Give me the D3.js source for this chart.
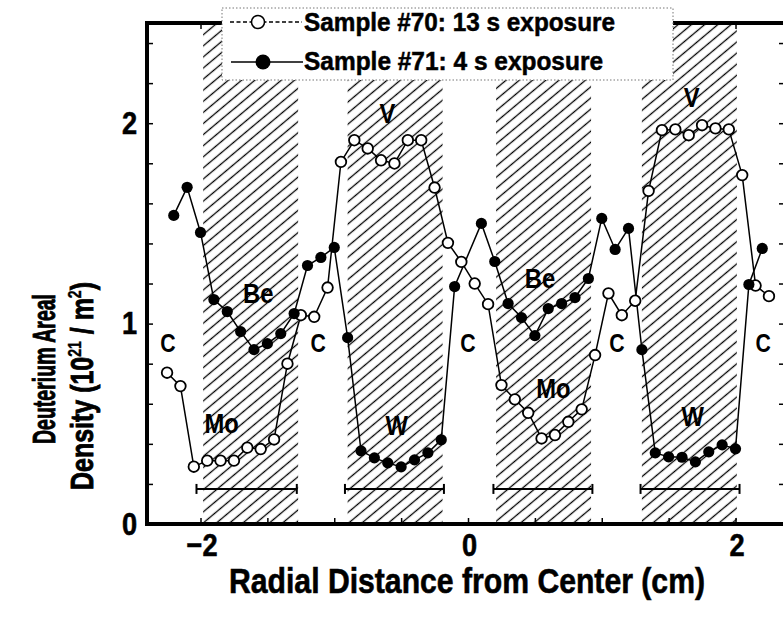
<!DOCTYPE html>
<html><head><meta charset="utf-8">
<script src="https://cdn.jsdelivr.net/npm/d3@7"></script>
<style>body{margin:0;background:#fff} svg{display:block}</style>
</head><body>
<svg id="chart" width="783" height="618"></svg>
<script>
// ---- data ----
const x71 = [-2.2,-2.1,-2.0,-1.9,-1.8,-1.7,-1.6,-1.5,-1.4,-1.3,-1.2,-1.1,-1.0,-0.9,-0.8,-0.7,-0.6,-0.5,-0.4,-0.3,-0.2,-0.1,0.1,0.2,0.3,0.4,0.5,0.6,0.7,0.8,0.9,1.0,1.1,1.2,1.3,1.4,1.5,1.6,1.7,1.8,1.9,2.0,2.1,2.2];
const y71 = [1.54,1.68,1.455,1.12,1.06,0.96,0.87,0.90,0.95,1.05,1.29,1.33,1.38,0.93,0.365,0.33,0.305,0.285,0.32,0.355,0.42,1.185,1.50,1.31,1.10,1.03,0.94,1.075,1.10,1.13,1.225,1.525,1.37,1.475,0.87,0.355,0.335,0.333,0.31,0.36,0.395,0.375,1.195,1.375];
const x70 = [-2.25,-2.15,-2.05,-1.95,-1.85,-1.75,-1.65,-1.55,-1.45,-1.35,-1.25,-1.15,-1.05,-0.95,-0.85,-0.75,-0.65,-0.55,-0.45,-0.35,-0.25,-0.15,-0.05,0.05,0.15,0.25,0.35,0.45,0.55,0.65,0.75,0.85,0.95,1.05,1.15,1.25,1.35,1.45,1.55,1.65,1.75,1.85,1.95,2.05,2.15,2.25];
const y70 = [0.755,0.688,0.286,0.316,0.316,0.316,0.381,0.374,0.422,0.80,1.042,1.034,1.18,1.807,1.915,1.874,1.815,1.799,1.915,1.915,1.679,1.403,1.308,1.20,1.097,0.693,0.622,0.555,0.427,0.444,0.51,0.572,0.843,1.151,1.042,1.114,1.662,1.965,1.969,1.94,1.99,1.974,1.969,1.741,1.19,1.137];
const hatchStart = [-1.98,-0.90,0.21,1.30];
const hatchEnd   = [-1.27,-0.19,0.92,2.01];
const barStart = [-2.03,-0.92,0.19,1.29];
const barEnd   = [-1.28,-0.18,0.93,2.03];
const barLevel = 0.175;
const labelText = ["C","C","C","C","C","Be","Be","Mo","Mo","V","V","W","W"];
const labelX = [-2.243,-1.121,0.0,1.114,2.206,-1.568,0.538,-1.842,0.638,-0.603,1.673,-0.533,1.68];
const labelY = [0.903,0.903,0.903,0.903,0.903,1.151,1.225,0.502,0.677,2.048,2.131,0.494,0.535];
const xTickLabels = [-2,0,2];
const yTickLabels = [0,1,2];
const legendLabels = ["Sample #70: 13 s exposure","Sample #71: 4 s exposure"];

// ---- layout ----
const FONT = "'Liberation Sans',Arial,sans-serif";
const svg = d3.select("#chart");
const x = d3.scaleLinear().domain([-2.4, 2.37]).range([147, 785]);
const y = d3.scaleLinear().domain([0, 2.5]).range([524, 23]);

const defs = svg.append("defs");
const pat = defs.append("pattern").attr("id","hatch").attr("patternUnits","userSpaceOnUse")
  .attr("width",10).attr("height",8.5).attr("patternTransform","rotate(-40)");
pat.append("line").attr("x1",-1).attr("x2",11).attr("y1",4.25).attr("y2",4.25)
  .attr("stroke","#000").attr("stroke-width",1.3);

// hatched regions
svg.append("g").selectAll("rect").data(hatchStart).join("rect")
  .attr("x", (d,i)=>x(d)).attr("width",(d,i)=>x(hatchEnd[i])-x(d))
  .attr("y", y(2.5)).attr("height", y(0)-y(2.5))
  .attr("fill","url(#hatch)");

// bars with end caps
const bars = svg.append("g").attr("stroke","#000").attr("stroke-width",2);
barStart.forEach((s,i)=>{
  bars.append("line").attr("x1",x(s)).attr("x2",x(barEnd[i])).attr("y1",y(barLevel)).attr("y2",y(barLevel));
  [s, barEnd[i]].forEach(v=>bars.append("line").attr("x1",x(v)).attr("x2",x(v))
     .attr("y1",y(barLevel)-5).attr("y2",y(barLevel)+5));
});

// series lines
const line = d3.line().x(d=>x(d[0])).y(d=>y(d[1]));
const d70 = x70.map((v,i)=>[v,y70[i]]);
const d71 = x71.map((v,i)=>[v,y71[i]]);
svg.append("path").datum(d70).attr("d",line).attr("fill","none").attr("stroke","#000").attr("stroke-width",1.5);
svg.append("path").datum(d71).attr("d",line).attr("fill","none").attr("stroke","#000").attr("stroke-width",1.5);
svg.append("g").selectAll("circle").data(d70).join("circle")
  .attr("cx",d=>x(d[0])).attr("cy",d=>y(d[1])).attr("r",5.3)
  .attr("fill","#fff").attr("stroke","#000").attr("stroke-width",1.8);
svg.append("g").selectAll("circle").data(d71).join("circle")
  .attr("cx",d=>x(d[0])).attr("cy",d=>y(d[1])).attr("r",5.6).attr("fill","#000");

// region labels (condensed look via horizontal scaling)
svg.append("g").selectAll("text").data(labelText).join("text")
  .attr("transform",(d,i)=>`translate(${x(labelX[i])},${y(labelY[i])}) scale(0.85,1)`)
  .attr("text-anchor","middle").attr("dominant-baseline","central")
  .attr("font-family",FONT).attr("font-weight","bold")
  .attr("font-size",d=>d==="C"?25:28).text(d=>d);

// axes
const xb = svg.append("g").attr("transform",`translate(0,${y(0)})`)
  .call(d3.axisBottom(x).tickValues(d3.range(-2,2.01,0.5)).tickSizeInner(-6).tickSizeOuter(0).tickPadding(9)
    .tickFormat(d=> xTickLabels.includes(d) ? d3.format("d")(d).replace("-","\u2013") : ""));
const xt = svg.append("g").attr("transform",`translate(0,${y(2.5)})`)
  .call(d3.axisTop(x).tickValues(d3.range(-2,2.01,1)).tickSizeInner(-6).tickSizeOuter(0).tickFormat(""));
const yl = svg.append("g").attr("transform",`translate(${x(-2.4)},0)`)
  .call(d3.axisLeft(y).tickValues(d3.range(0,2.41,0.2)).tickSizeInner(-6).tickSizeOuter(0).tickPadding(10)
    .tickFormat(d=> yTickLabels.some(t=>Math.abs(t-d)<1e-6) ? d3.format("d")(d) : ""));
const yr = svg.append("g").attr("transform",`translate(${x(2.37)},0)`)
  .call(d3.axisRight(y).tickValues(d3.range(0,2.41,0.2)).tickSizeInner(-6).tickSizeOuter(0).tickFormat(""));
[xb,xt,yl,yr].forEach(g=>{
  g.select(".domain").remove();
  g.selectAll(".tick line").attr("stroke","#000").attr("stroke-width",1.5);
  g.selectAll("text").attr("font-family",FONT).attr("font-weight","bold").attr("font-size",32).attr("fill","#000")
    .attr("stroke","#000").attr("stroke-width",0.6);
});
xb.selectAll(".tick text").attr("transform","translate(1,0) scale(0.85,1)");
yl.selectAll(".tick text").attr("transform","scale(0.85,1)").attr("x",-10/0.85);

// frame
svg.append("rect").attr("x",x(-2.4)).attr("y",y(2.5)).attr("width",x(2.37)-x(-2.4)).attr("height",y(0)-y(2.5))
  .attr("fill","none").attr("stroke","#000").attr("stroke-width",4);

// axis titles
svg.append("text").attr("x",467).attr("y",593).attr("text-anchor","middle")
  .attr("font-family",FONT).attr("font-weight","bold").attr("font-size",35)
  .attr("stroke","#000").attr("stroke-width",0.6)
  .attr("textLength",476).attr("lengthAdjust","spacingAndGlyphs")
  .text("Radial Distance from Center (cm)");
const yt = svg.append("g").attr("font-family",FONT).attr("font-weight","bold").attr("font-size",32)
  .attr("stroke","#000").attr("stroke-width",0.9);
yt.append("text").attr("transform","translate(55,369) rotate(-90)").attr("text-anchor","middle")
  .attr("textLength",150).attr("lengthAdjust","spacingAndGlyphs").text("Deuterium Areal");
const t2 = yt.append("text").attr("transform","translate(93,386) rotate(-90)").attr("text-anchor","middle")
  .attr("textLength",208).attr("lengthAdjust","spacingAndGlyphs");
t2.append("tspan").text("Density (10");
t2.append("tspan").attr("dy",-12).attr("font-size",18).attr("stroke-width",0.4).text("21");
t2.append("tspan").attr("dy",12).text(" / m");
t2.append("tspan").attr("dy",-12).attr("font-size",18).attr("stroke-width",0.4).text("2");
t2.append("tspan").attr("dy",12).text(")");

// legend
const lg = svg.append("g");
lg.append("rect").attr("x",222).attr("y",8).attr("width",451).attr("height",72)
  .attr("fill","#fff").attr("stroke","#777").attr("stroke-width",1).attr("stroke-dasharray","1.5,2");
lg.append("line").attr("x1",230).attr("x2",302).attr("y1",22).attr("y2",22)
  .attr("stroke","#000").attr("stroke-width",1.3).attr("stroke-dasharray","4,2.5");
lg.append("circle").attr("cx",258).attr("cy",22).attr("r",6.5).attr("fill","#fff").attr("stroke","#000").attr("stroke-width",1.5);
lg.append("line").attr("x1",231).attr("x2",303).attr("y1",62).attr("y2",62)
  .attr("stroke","#000").attr("stroke-width",1.5);
lg.append("circle").attr("cx",263).attr("cy",62).attr("r",7.5).attr("fill","#000");
lg.append("text").attr("x",304).attr("y",31).attr("font-family",FONT).attr("font-weight","bold").attr("font-size",25)
  .attr("stroke","#000").attr("stroke-width",0.5)
  .attr("textLength",311).attr("lengthAdjust","spacingAndGlyphs").text(legendLabels[0]);
lg.append("text").attr("x",304).attr("y",70).attr("font-family",FONT).attr("font-weight","bold").attr("font-size",25)
  .attr("stroke","#000").attr("stroke-width",0.5)
  .attr("textLength",299).attr("lengthAdjust","spacingAndGlyphs").text(legendLabels[1]);
</script>
</body></html>
